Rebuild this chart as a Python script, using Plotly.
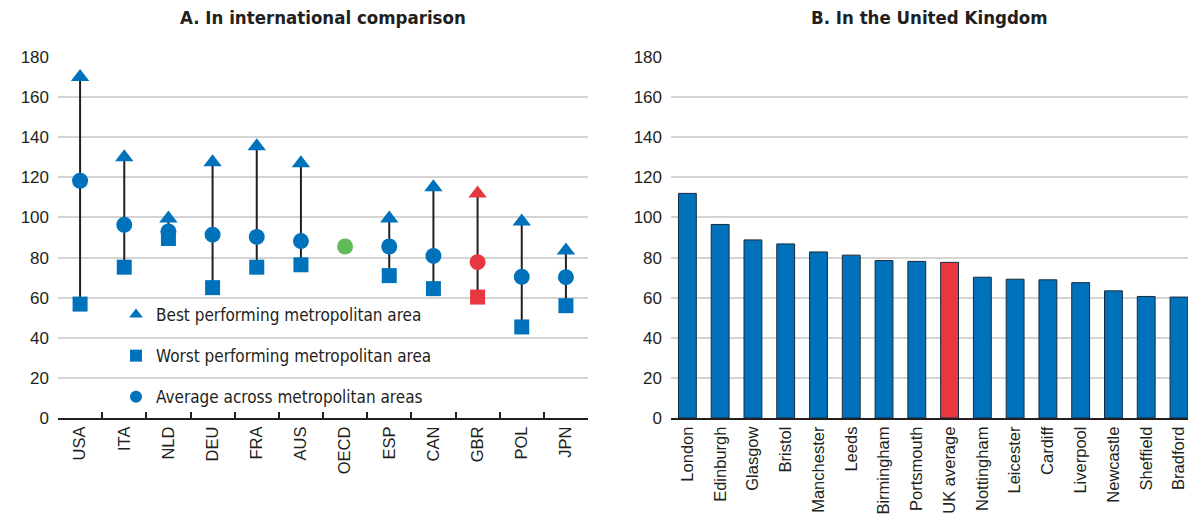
import plotly.graph_objects as go

# ---- Data ----
countries = ["USA", "ITA", "NLD", "DEU", "FRA", "AUS", "OECD", "ESP", "CAN", "GBR", "POL", "JPN"]
best = [170, 130, 99.5, 127.5, 135.5, 127, None, 99.5, 115, 112, 98, 83.5]
worst = [56.8, 75.2, 89.5, 65, 75.2, 76.4, None, 71, 64.5, 60.3, 45.4, 56]
average = [118.3, 96.3, 93, 91.4, 90.3, 88.2, 85.5, 85.5, 80.8, 77.7, 70.4, 70.2]

cities = ["London", "Edinburgh", "Glasgow", "Bristol", "Manchester", "Leeds", "Birmingham",
          "Portsmouth", "UK average", "Nottingham", "Leicester", "Cardiff", "Liverpool",
          "Newcastle", "Sheffield", "Bradford"]
city_values = [112, 96.5, 88.8, 86.8, 82.8, 81.2, 78.5, 78.1, 77.6, 70.2, 69.2, 68.9, 67.5,
               63.4, 60.6, 60.3]

yticks = [0, 20, 40, 60, 80, 100, 120, 140, 160, 180]

BLUE = "#0072BC"
RED = "#E8383F"
GREEN = "#5FBA58"

def col(c, default=BLUE):
    if c == "GBR":
        return RED
    if c == "OECD":
        return GREEN
    return default

fig = go.Figure()

# connecting lines (worst -> best)
lx, ly = [], []
for c, b, w in zip(countries, best, worst):
    if b is not None and w is not None:
        lx += [c, c, None]
        ly += [w, b, None]
fig.add_trace(go.Scatter(x=lx, y=ly, mode="lines", line=dict(color="#231F20", width=2),
                         showlegend=False, hoverinfo="skip", xaxis="x", yaxis="y"))

fig.add_trace(go.Scatter(x=countries, y=best, mode="markers", name="Best performing metropolitan area",
                         marker=dict(symbol="triangle-up", size=16, color=[col(c) for c in countries]),
                         legendgroup="a", xaxis="x", yaxis="y"))
fig.add_trace(go.Scatter(x=countries, y=worst, mode="markers", name="Worst performing metropolitan area",
                         marker=dict(symbol="square", size=15, color=[col(c) for c in countries]),
                         legendgroup="b", xaxis="x", yaxis="y"))
fig.add_trace(go.Scatter(x=countries, y=average, mode="markers", name="Average across metropolitan areas",
                         marker=dict(symbol="circle", size=16, color=[col(c) for c in countries]),
                         legendgroup="c", xaxis="x", yaxis="y"))

fig.add_trace(go.Bar(x=cities, y=city_values,
                     marker=dict(color=[RED if c == "UK average" else BLUE for c in cities],
                                 line=dict(color="#1a2a3a", width=1)),
                     showlegend=False, xaxis="x2", yaxis="y2"))

W, H = 1188, 516
ydom = [98 / H, 459 / H]
NARROW = "Liberation Sans Narrow, DejaVu Sans Condensed, Arial Narrow, sans-serif"
tickfont_y = dict(family="Liberation Sans Narrow, Liberation Sans, Arial, sans-serif", size=17, color="#231F20")
tickfont_x = dict(family="Liberation Sans, Arial, sans-serif", size=16.5, color="#231F20")

common_y = dict(range=[0, 180], tickvals=yticks, showgrid=True, gridcolor="#d4d4d4", gridwidth=1.5,
                zeroline=False, showline=False, tickfont=tickfont_y, ticks="", domain=ydom,
                automargin=False, ticklabelstandoff=8)

fig.update_layout(
    width=W, height=H,
    margin=dict(l=0, r=0, t=0, b=0, autoexpand=False),
    paper_bgcolor="white", plot_bgcolor="white",
    font=dict(family="Liberation Sans, Arial, sans-serif", color="#231F20"),
    showlegend=True,
    legend=dict(x=116 / W, y=1 - 297 / H, xanchor="left", yanchor="top",
                bgcolor="rgba(0,0,0,0)", traceorder="grouped", tracegroupgap=16,
                itemsizing="constant",
                font=dict(family=NARROW, size=17, color="#231F20"),
                itemwidth=30),
    xaxis=dict(domain=[58 / W, 588 / W], type="category", categoryorder="array", categoryarray=countries,
               tickangle=-90, tickfont=tickfont_x, showline=True, linecolor="#231F20", linewidth=2,
               ticks="inside", ticklen=6, tickcolor="#231F20", tickwidth=1.5, tickson="boundaries",
               showgrid=False, anchor="y", range=[-0.5, 11.5], automargin=False),
    yaxis=dict(anchor="x", **common_y),
    xaxis2=dict(domain=[671 / W, 1.0], type="category", categoryorder="array", categoryarray=cities,
                tickangle=-90, tickfont=tickfont_x, showline=True, linecolor="#231F20", linewidth=2,
                ticks="", showgrid=False, anchor="y2", range=[-0.5, 15.275], automargin=False),
    yaxis2=dict(anchor="x2", **common_y),
    bargap=0.455,
    annotations=[
        dict(text="<b>A. In international comparison</b>", x=(58 + 588) / 2 / W, y=1 - 18 / H,
             xref="paper", yref="paper", showarrow=False, xanchor="center", yanchor="middle",
             font=dict(size=18.5, family=NARROW, color="#231F20")),
        dict(text="<b>B. In the United Kingdom</b>", x=(671 + 1188) / 2 / W, y=1 - 18 / H,
             xref="paper", yref="paper", showarrow=False, xanchor="center", yanchor="middle",
             font=dict(size=18.5, family=NARROW, color="#231F20")),
    ],
)

fig.write_html("out.html", config={"displayModeBar": False},
               post_script="document.body.style.margin='0';")
